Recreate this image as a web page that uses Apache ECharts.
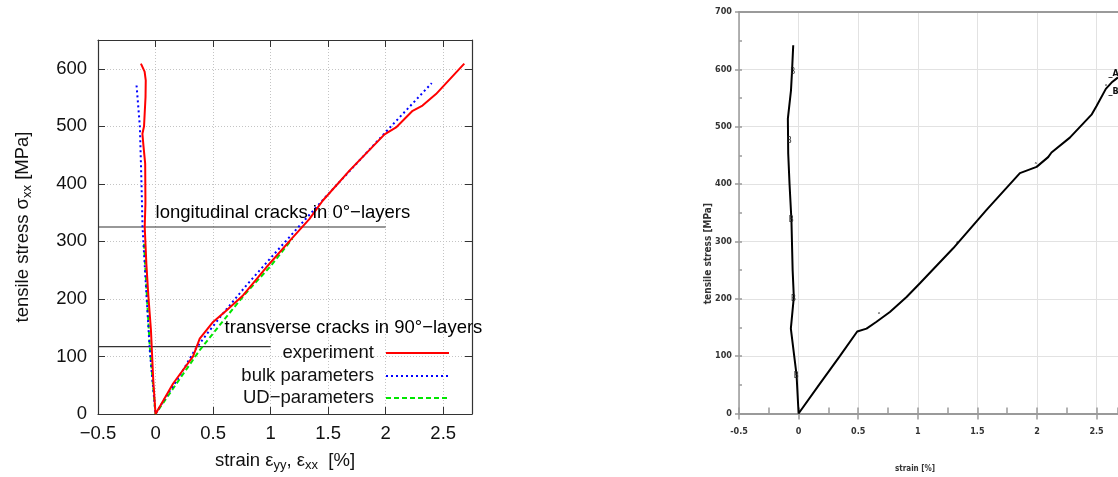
<!DOCTYPE html>
<html>
<head>
<meta charset="utf-8">
<script src="https://cdn.jsdelivr.net/npm/echarts@6/dist/echarts.min.js"></script>
<style>
html,body{margin:0;padding:0;background:#fff;}
#chart{width:1118px;height:477px;}
</style>
</head>
<body>
<div id="chart"></div>
<script>
// ---------- Left chart data (strain %, stress MPa) ----------
const experimentCurve = [
  [-0.127,609],[-0.095,595],[-0.085,580],[-0.087,551],[-0.100,500],[-0.114,487],[-0.105,466],
  [-0.090,435],[-0.088,377],[-0.088,365],[-0.094,325],[-0.080,262],[-0.062,204],[-0.040,146],
  [-0.020,59],[0,0],
  [0.153,53],[0.326,100],[0.384,131],[0.50,160],[0.616,180],[0.76,206],[0.963,255],[1.193,307],
  [1.338,339],[1.454,371],[1.685,423],[1.99,486],[2.09,498],[2.234,527],[2.32,536],[2.437,556],[2.683,609]
];
const bulkCurve = [
  [-0.165,571],[-0.136,499],[-0.122,400],[-0.113,325],[-0.078,204],[-0.050,111],[0,0],
  [0.10,33],[0.20,63],[0.341,111],[0.45,140],[0.587,175],[0.80,226],[1.00,271],[1.30,338],
  [1.50,382],[2.00,490],[2.40,575]
];
const udCurve = [
  [-0.100,296],[-0.075,204],[-0.048,111],[0,0],
  [0.20,58],[0.384,111],[0.60,165],[0.78,209],[1.00,257],[1.19,305]
];
const longitudinalCrackLine = [[-0.5,325],[2,325]];
const transverseCrackLine = [[-0.5,117],[1,117]];
const crackLabels = [
  {name:'longitudinal cracks in 0°\u2212layers', value:[0,350]},
  {name:'transverse cracks in 90°\u2212layers', value:[0.6,149.5]}
];
const seriesNames = ['experiment','bulk parameters','UD\u2212parameters'];
const leftXTicks = {min:-0.5, max:2.75, interval:0.5};
const leftYTicks = {min:0, max:650, interval:100};

// ---------- Right chart data ----------
const measuredCurve = [
  [-0.045,642],[-0.056,593],[-0.064,563],[-0.090,514],[-0.087,453],[-0.076,400],[-0.060,337],
  [-0.050,250],[-0.040,203],[-0.065,148],[-0.017,67],[0,0],
  [0.179,52],[0.346,100],[0.492,143],[0.57,148],[0.654,160],[0.766,177],[0.906,203],[1.018,227],
  [1.297,288],[1.577,355],[1.857,419],[1.997,430],[2.094,447],[2.122,455],[2.276,481],[2.458,521],
  [2.50,536],[2.578,566],[2.626,577],[2.68,586]
];
const markB = [[-0.045,595],[-0.075,476],[-0.058,337],[-0.038,200],[-0.015,65]];
const markA = [[0.676,168],[1.331,293],[1.99,430],[2.58,566]];
const endLabels = [{name:'_A', value:[2.6,592]},{name:'_B', value:[2.6,561]}];
const rightXTicks = {min:-0.5, max:2.68, interval:0.5, minor:0.25};
const rightYTicks = {min:0, max:700, interval:100, minor:50};

const LF = 'Liberation Sans, Arial, sans-serif';
const RF = 'Liberation Sans Narrow, DejaVu Sans Condensed, sans-serif';
const minus = v => String(v).replace('-', '\u2212');

const chart = echarts.init(document.getElementById('chart'), null, {renderer:'canvas'});

const option = {
  animation:false,
  backgroundColor:'#fff',
  grid:[
    {left:98, top:40, width:374, height:374},
    {left:739, top:12, width:379, height:401.5}
  ],
  xAxis:[
    {gridIndex:0, type:'value', position:'bottom', min:leftXTicks.min, max:leftXTicks.max, interval:leftXTicks.interval,
     axisLine:{show:true, onZero:false, lineStyle:{color:'#333', width:1.2}},
     axisTick:{show:true, inside:true, length:7, lineStyle:{color:'#333'}},
     axisLabel:{show:true, showMaxLabel:false, margin:10, color:'#111', fontFamily:LF, fontSize:18.5, formatter:minus},
     splitLine:{show:true, lineStyle:{color:'#c4c4c4', type:[1,2], width:1}},
     name:'{a|strain ε}{s|yy}{a|, ε}{s|xx}{a|  [%]}', nameLocation:'middle', nameGap:36,
     nameTextStyle:{color:'#111', rich:{a:{fontFamily:LF, fontSize:18.5, lineHeight:22, color:'#111'}, s:{fontFamily:LF, fontSize:13, lineHeight:10, verticalAlign:'bottom', color:'#111'}}}
    },
    {gridIndex:0, type:'value', position:'top', min:leftXTicks.min, max:leftXTicks.max, interval:leftXTicks.interval,
     axisLine:{show:true, onZero:false, lineStyle:{color:'#333', width:1.2}},
     axisTick:{show:true, inside:true, length:7, lineStyle:{color:'#333'}},
     axisLabel:{show:false}, splitLine:{show:false}},
    {gridIndex:1, type:'value', position:'bottom', min:rightXTicks.min, max:rightXTicks.max, interval:rightXTicks.interval,
     axisLine:{show:true, onZero:false, lineStyle:{color:'#9a9a9a', width:2}},
     axisTick:{show:true, inside:false, length:6, lineStyle:{color:'#9a9a9a', width:1.5}},
     axisLabel:{show:true, showMaxLabel:false, margin:14, color:'#333', fontFamily:RF, fontWeight:'bold', fontSize:9},
     splitLine:{show:true, lineStyle:{color:'#e2e2e2', width:1}}},
    {gridIndex:1, type:'value', position:'bottom', min:rightXTicks.min, max:rightXTicks.max, interval:rightXTicks.minor,
     axisLine:{show:false, onZero:false}, axisTick:{show:true, inside:true, length:6, lineStyle:{color:'#9a9a9a', width:1.5}},
     axisLabel:{show:false}, splitLine:{show:false}},
    {gridIndex:1, type:'value', position:'top', min:rightXTicks.min, max:rightXTicks.max,
     axisLine:{show:true, onZero:false, lineStyle:{color:'#9a9a9a', width:2}},
     axisTick:{show:false}, axisLabel:{show:false}, splitLine:{show:false}}
  ],
  yAxis:[
    {gridIndex:0, type:'value', position:'left', min:leftYTicks.min, max:leftYTicks.max, interval:leftYTicks.interval,
     axisLine:{show:true, onZero:false, lineStyle:{color:'#333', width:1.2}},
     axisTick:{show:true, inside:true, length:7, lineStyle:{color:'#333'}},
     axisLabel:{show:true, showMaxLabel:false, margin:11, color:'#111', fontFamily:LF, fontSize:18.5},
     splitLine:{show:true, lineStyle:{color:'#c4c4c4', type:[1,2], width:1}},
     name:'{a|tensile stress σ}{s|xx}{a| [MPa]}', nameLocation:'middle', nameGap:64, nameRotate:90,
     nameTextStyle:{color:'#111', rich:{a:{fontFamily:LF, fontSize:18.5, lineHeight:22, color:'#111'}, s:{fontFamily:LF, fontSize:13, lineHeight:10, verticalAlign:'bottom', color:'#111'}}}
    },
    {gridIndex:0, type:'value', position:'right', min:leftYTicks.min, max:leftYTicks.max, interval:leftYTicks.interval,
     axisLine:{show:true, onZero:false, lineStyle:{color:'#333', width:1.2}},
     axisTick:{show:true, inside:true, length:7, lineStyle:{color:'#333'}},
     axisLabel:{show:false}, splitLine:{show:false}},
    {gridIndex:1, type:'value', position:'left', min:rightYTicks.min, max:rightYTicks.max, interval:rightYTicks.interval,
     axisLine:{show:true, onZero:false, lineStyle:{color:'#9a9a9a', width:1.5}},
     axisTick:{show:true, inside:false, length:4, lineStyle:{color:'#9a9a9a', width:1.5}},
     axisLabel:{show:true, margin:7, color:'#333', fontFamily:RF, fontWeight:'bold', fontSize:9},
     splitLine:{show:true, lineStyle:{color:'#e2e2e2', width:1}}},
    {gridIndex:1, type:'value', position:'left', min:rightYTicks.min, max:rightYTicks.max, interval:rightYTicks.minor,
     axisLine:{show:false, onZero:false}, axisTick:{show:true, inside:true, length:3, lineStyle:{color:'#9a9a9a', width:1.5}},
     axisLabel:{show:false}, splitLine:{show:false}}
  ],
  legend:[
    {data:[seriesNames[0]], top:343},
    {data:[seriesNames[1]], top:366},
    {data:[seriesNames[2]], top:388}
  ].map(l => Object.assign(l, {
    right:668, orient:'vertical', align:'right', padding:0, itemWidth:63, itemHeight:14,
    selectedMode:false,
    itemStyle:{color:'rgba(0,0,0,0)', borderColor:'rgba(0,0,0,0)', borderWidth:0},
    textStyle:{fontFamily:LF, fontSize:18.5, color:'#111', lineHeight:20, padding:[0,7,0,0]}
  })),
  series:[
    {name:'longCrack', type:'line', xAxisIndex:0, yAxisIndex:0, data:longitudinalCrackLine, symbol:'none',
     lineStyle:{color:'#333', width:1.2}, silent:true, z:3},
    {name:'transCrack', type:'line', xAxisIndex:0, yAxisIndex:0, data:transverseCrackLine, symbol:'none',
     lineStyle:{color:'#333', width:1.2}, silent:true, z:3},
    {name:seriesNames[2], type:'line', xAxisIndex:0, yAxisIndex:0, data:udCurve, symbol:'none', showSymbol:false,
     color:'#00e600', lineStyle:{color:'#00e600', width:2, type:[5,3]}, z:4},
    {name:seriesNames[1], type:'line', xAxisIndex:0, yAxisIndex:0, data:bulkCurve, symbol:'none', showSymbol:false,
     color:'#0000ff', lineStyle:{color:'#0000ff', width:2, type:[2,3]}, z:5},
    {name:seriesNames[0], type:'line', xAxisIndex:0, yAxisIndex:0, data:experimentCurve, symbol:'none', showSymbol:false,
     color:'#ff0000', lineStyle:{color:'#ff0000', width:2}, z:6},
    {name:'crackText', type:'scatter', xAxisIndex:0, yAxisIndex:0, data:crackLabels, symbolSize:0, silent:true,
     itemStyle:{opacity:1},
     label:{show:true, position:'right', distance:0, formatter:p => p.name, fontFamily:LF, fontSize:18.5, color:'#000', opacity:1}, z:7},
    // right chart
    {name:'measured', type:'line', xAxisIndex:2, yAxisIndex:2, data:measuredCurve, symbol:'none',
     lineStyle:{color:'#000', width:2}, z:5, silent:true},
    {name:'B', type:'scatter', xAxisIndex:2, yAxisIndex:2, data:markB, symbolSize:0, silent:true, itemStyle:{opacity:1},
     label:{show:true, position:'right', distance:-3, formatter:'B', fontFamily:RF, fontSize:8, color:'#222', opacity:1}, z:6},
    {name:'A', type:'scatter', xAxisIndex:2, yAxisIndex:2, data:markA, symbolSize:0, silent:true, itemStyle:{opacity:1},
     label:{show:true, position:'inside', formatter:'\u02c4', fontFamily:RF, fontSize:8, color:'#222', opacity:1}, z:6},
    {name:'end', type:'scatter', xAxisIndex:2, yAxisIndex:2, data:endLabels, symbolSize:0, silent:true, itemStyle:{opacity:1},
     label:{show:true, position:'right', distance:0, formatter:p => p.name, fontFamily:RF, fontWeight:'bold', fontSize:9, color:'#111', opacity:1}, z:6}
  ],
  graphic:[
    {type:'text', left:703, top:203, rotation:Math.PI/2, originX:0, originY:0,
     style:{text:'tensile stress [MPa]', fontFamily:RF, fontWeight:'bold', fontSize:10, fill:'#333'}},
    {type:'text', left:895, top:465,
     style:{text:'strain [%]', fontFamily:RF, fontWeight:'bold', fontSize:8, fill:'#333'}}
  ]
};
chart.setOption(option);
</script>
</body>
</html>
